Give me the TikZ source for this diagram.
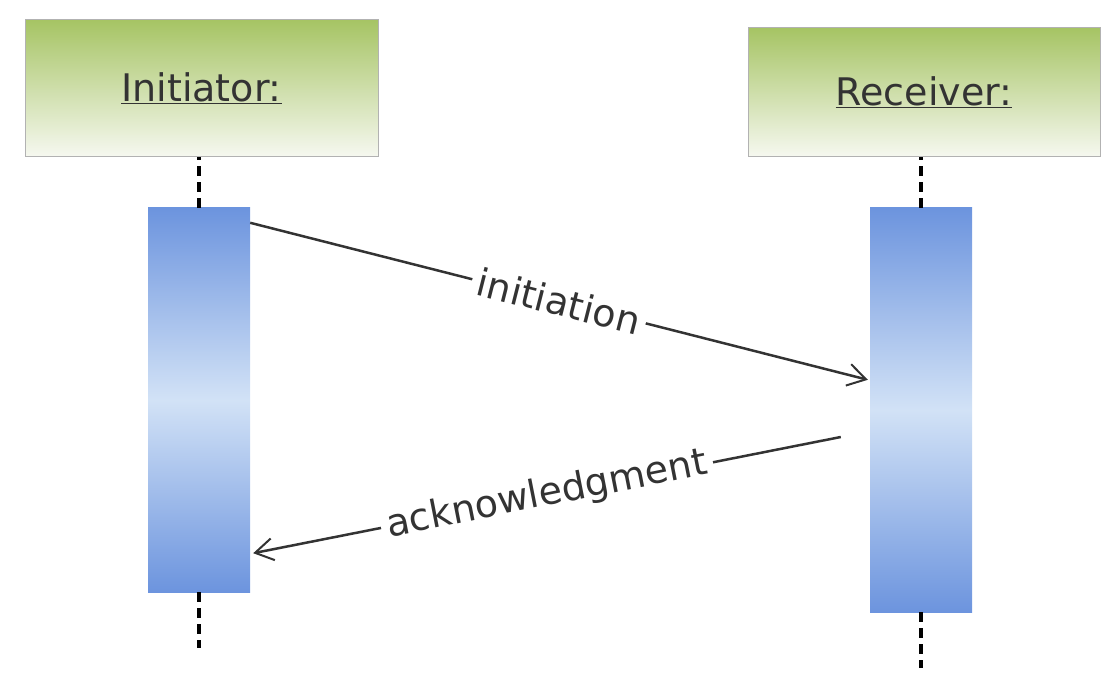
\documentclass[tikz,border=0pt]{standalone}
\usepackage{fontspec}
\setmainfont{DejaVu Sans}
\usepackage{tikz}
\usetikzlibrary{arrows.meta,calc,positioning}
\usepackage{xcolor}

\definecolor{headgreen}{HTML}{A6C464}
\definecolor{headwhite}{HTML}{F6F8F0}
\definecolor{actblue}{HTML}{6C94DE}
\definecolor{actlight}{HTML}{D2E2F6}
\definecolor{inkgray}{HTML}{333333}

\tikzset{
    actorbox/.style={draw=gray!60, line width=1pt, top color=headgreen, bottom color=headwhite,
        text=black!80, font=\fontsize{38}{42}\selectfont, inner sep=0pt},
    activation/.style={top color=actblue, bottom color=actblue, middle color=actlight,
        minimum width=102pt, inner sep=0pt},
    lifeline/.style={line width=4.5pt, dash pattern=on 10pt off 6pt},
    msg/.style={draw=inkgray, line width=2.5pt,
        -{Straight Barb[length=18pt,width=22pt,line width=2pt]}},
    msglabel/.style={fill=white, text=inkgray, sloped, inner sep=6pt,
        font=\fontsize{38}{42}\selectfont}
}

\begin{document}
\begin{tikzpicture}[x=1pt,y=1pt]
    \useasboundingbox (0,0) rectangle (1102,673);

    % Actor heads
    \node[actorbox, minimum width=353pt, minimum height=137pt] (initiator) at (201.5,584.5) {\underline{Initiator:}};
    \node[actorbox, minimum width=352pt, minimum height=129pt] (receiver) at (924,580.5) {\underline{Receiver:}};

    % Activation bars
    \node[activation, minimum height=384pt] (initact) at (199,273) {};
    \node[activation, minimum height=404pt] (recvact) at (921,263) {};

    % Lifelines
    \coordinate (initend) at ($(initact.south)+(0,-56)$);
    \coordinate (recvend) at ($(recvact.south)+(0,-56)$);
    \draw[lifeline] (initact.north) -- (initact.north |- initiator.south);
    \draw[lifeline] (initact.south) -- (initend);
    \draw[lifeline] (recvact.north) -- (recvact.north |- receiver.south);
    \draw[lifeline] (recvact.south) -- (recvend);

    % Messages
    \draw[msg] ($(initact.north east)+(0,-15)$) -- node[msglabel] {initiation} ($(recvact.north west)+(-2,-172)$);
    \draw[msg] ($(recvact.west)+(-29,-27)$) -- node[msglabel] {acknowledgment} ($(initact.south east)+(3,39)$);
\end{tikzpicture}
\end{document}
